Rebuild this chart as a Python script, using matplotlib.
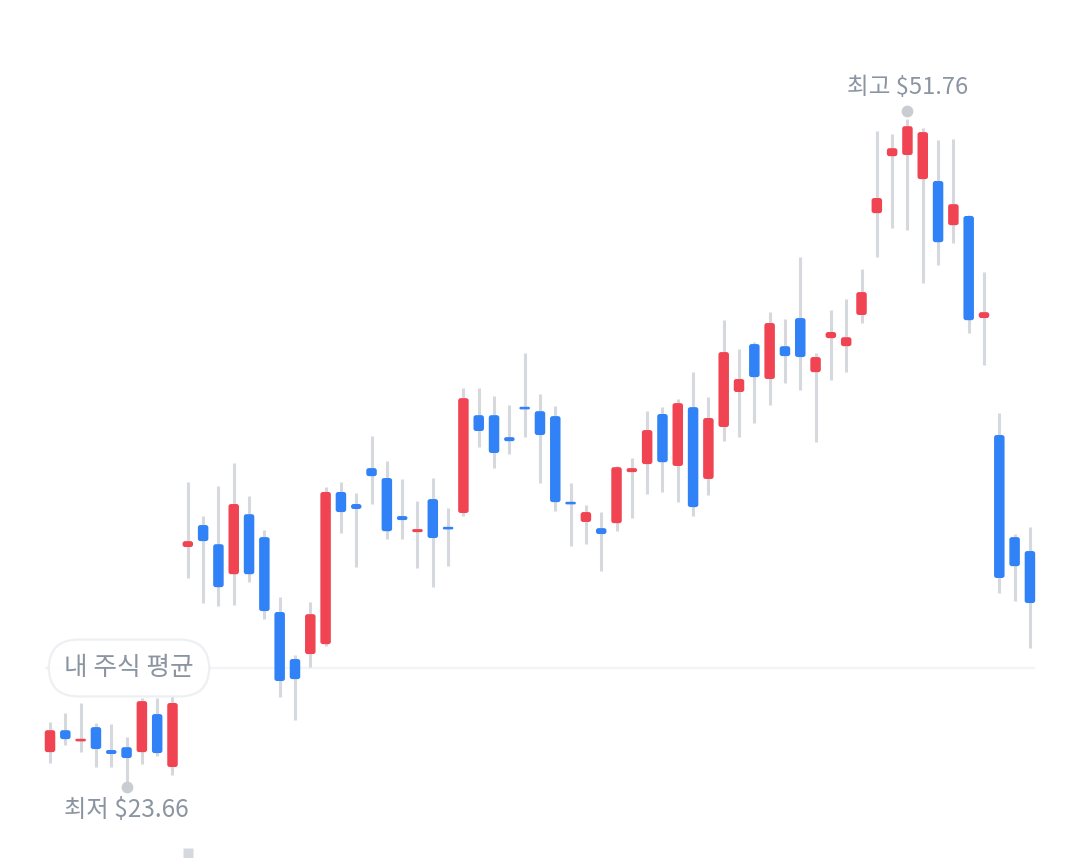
import matplotlib
matplotlib.use("Agg")
from matplotlib import pyplot as plt
from matplotlib.patches import FancyBboxPatch
from matplotlib.transforms import offset_copy

plt.rcParams['font.family'] = ['Noto Sans CJK KR', 'DejaVu Sans']

# 일봉 OHLC (달러)
opens = [24.97, 25.90, 25.44, 26.03, 25.06, 25.18, 24.97, 26.58, 24.34,
         33.65, 34.58, 33.77, 32.50, 35.04, 34.07, 30.90, 28.91, 29.12, 29.54,
         35.98, 35.47, 36.99, 36.57, 34.96, 34.28, 35.68, 34.49, 35.09, 39.23,
         39.23, 38.30, 39.57, 39.40, 39.19, 35.55, 34.71, 34.45, 34.66, 36.82,
         37.16, 39.28, 37.08, 39.57, 36.53, 38.73, 40.21, 42.24, 40.76, 42.15,
         43.34, 41.05, 42.49, 42.15, 43.47, 47.78, 50.19, 50.24, 49.22, 49.14,
         47.27, 47.66, 43.34, 38.39, 34.07, 33.48]
closes = [25.90, 25.52, 25.52, 25.10, 24.89, 24.72, 27.13, 24.93, 27.05,
          33.90, 33.90, 31.95, 35.47, 32.50, 30.94, 27.98, 28.06, 30.81, 35.98,
          35.13, 35.26, 36.65, 34.32, 34.79, 34.41, 34.03, 34.41, 39.95, 38.56,
          37.63, 38.13, 39.49, 38.39, 35.55, 35.47, 35.13, 34.20, 37.03, 36.99,
          38.60, 37.24, 39.74, 35.34, 39.11, 41.90, 40.76, 40.84, 43.13, 41.73,
          41.69, 41.69, 42.75, 42.53, 44.44, 48.42, 50.53, 51.46, 51.21, 46.55,
          48.16, 43.25, 43.59, 32.34, 32.84, 31.28]
highs = [26.24, 26.62, 27.05, 26.20, 26.16, 25.61, 27.26, 27.26, 27.34,
         36.40, 34.96, 36.23, 37.20, 35.81, 34.37, 31.53, 29.08, 31.32, 36.19,
         36.40, 35.93, 38.35, 37.29, 36.53, 35.59, 36.57, 35.30, 40.38, 40.38,
         40.04, 39.66, 41.86, 40.12, 39.61, 36.36, 35.43, 35.13, 37.06, 37.41,
         39.40, 39.57, 39.91, 41.05, 40.00, 43.25, 42.03, 42.32, 43.59, 43.30,
         45.92, 41.86, 43.68, 44.14, 45.41, 51.25, 51.13, 51.76, 51.38, 50.87,
         50.91, 47.70, 45.29, 39.32, 34.20, 34.49]
lows = [24.51, 25.27, 24.97, 24.34, 24.34, 23.66, 24.46, 24.80, 24.00,
        32.34, 31.28, 31.15, 31.19, 32.17, 30.60, 27.30, 26.33, 28.57, 29.46,
        34.24, 32.80, 35.47, 33.99, 33.99, 32.76, 31.95, 32.84, 34.96, 37.88,
        36.99, 37.58, 38.30, 36.36, 35.17, 33.69, 33.77, 32.63, 34.32, 34.87,
        35.89, 35.98, 35.55, 34.96, 35.85, 38.13, 38.30, 38.90, 39.66, 40.59,
        40.29, 38.09, 40.71, 41.05, 43.13, 45.92, 47.15, 47.06, 44.82, 45.58,
        46.51, 42.70, 41.35, 31.70, 31.36, 29.37]
my_avg = 28.53

RED = '#f04452'
BLUE = '#3182f6'
WICK = '#d5d9de'
GREY_TXT = '#8b95a1'

W, H = 1080, 858
fig = plt.figure(figsize=(W / 100, H / 100), dpi=100)
ax = fig.add_axes([0, 0, 1, 1])
ax.set_axis_off()
xlim = (-3.266, 67.27)
ylim = (20.49, 56.80)
ax.set_xlim(*xlim)
ax.set_ylim(*ylim)

pxx = W / (xlim[1] - xlim[0])
pxy = H / (ylim[1] - ylim[0])
aspect = pxx / pxy

n = len(opens)
xs = list(range(n))

# 내 주식 평균 라인
ax.hlines(my_avg, -0.3, n - 1 + 0.34, color='#f2f4f6', lw=1.6, zorder=1)

# 꼬리
ax.vlines(xs, lows, highs, color=WICK, lw=2.2, zorder=2)

# 몸통
bw = 10.5 / pxx
min_h = 2.6 / pxy
for i in xs:
    o, c = opens[i], closes[i]
    col = RED if c >= o else BLUE
    bottom = min(o, c)
    h = max(abs(c - o), min_h)
    if abs(c - o) < min_h:
        bottom = (o + c) / 2 - h / 2
    dr = min(2.5 / pxx, bw / 2, h / (2 * aspect))
    box = FancyBboxPatch((i - bw / 2, bottom), bw, h,
                         boxstyle=f"round,pad=0,rounding_size={dr}",
                         mutation_aspect=aspect, fc=col, ec='none', zorder=3)
    ax.add_patch(box)

# 최고 / 최저 표시
i_hi = highs.index(max(highs))
i_lo = lows.index(min(lows))
up = offset_copy(ax.transData, fig=fig, x=0, y=8, units='dots')
down = offset_copy(ax.transData, fig=fig, x=0, y=-4, units='dots')
ax.plot(i_hi, highs[i_hi], 'o', color='#c9cdd2', ms=8.5, mec='none',
        transform=up, zorder=4)
ax.plot(i_lo, lows[i_lo], 'o', color='#c9cdd2', ms=8.5, mec='none',
        transform=down, zorder=4)
ax.annotate(f"최고 ${highs[i_hi]:.2f}", xy=(i_hi, highs[i_hi]), xytext=(0, 32),
            textcoords='offset pixels', ha='center', va='center',
            fontsize=17, color=GREY_TXT)
ax.annotate(f"최저 ${lows[i_lo]:.2f}", xy=(i_lo, lows[i_lo]), xytext=(0, -27),
            textcoords='offset pixels', ha='center', va='center',
            fontsize=17.5, color=GREY_TXT)

# 평균 라벨
ax.text(5.16, my_avg, "내 주식 평균", ha='center', va='center',
        fontsize=18.5, color=GREY_TXT, zorder=5,
        bbox=dict(boxstyle='round,pad=0.6,rounding_size=1.15',
                  fc='white', ec='#eceef1', lw=1.6, alpha=0.92))

# 하단 작은 사각형
ax.plot(9, 20.70, 's', color='#d5d9de', ms=7, mec='none', zorder=2)

fig.savefig('out.png', dpi=100, facecolor='white')
